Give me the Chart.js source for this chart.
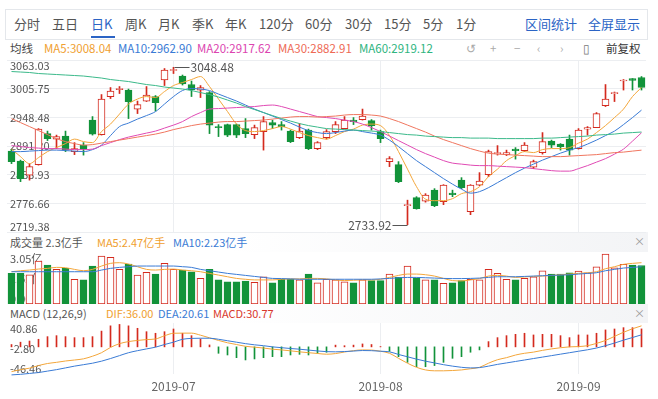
<!DOCTYPE html>
<html>
<head>
<meta charset="utf-8">
<script src="https://cdn.jsdelivr.net/npm/chart.js@4.4.1/dist/chart.umd.min.js"></script>
<style>
body{margin:0;width:658px;height:399px;background:#fff;font-family:"Noto Sans CJK SC",sans-serif;overflow:hidden;position:relative}
.t{position:absolute;white-space:nowrap;line-height:16px}
#tabs{position:absolute;left:5px;top:9px;width:643px;height:31px;border:1px solid #e4e7eb;box-sizing:border-box}
.tab{font-size:13px;color:#555;top:16px}
.lg{font-size:11.5px;top:40px}
.hd{font-size:11px}
.band{position:absolute;left:5px;width:643px;background:linear-gradient(to right,#fff 0%,#fff 35%,#f3f4f6 100%)}
canvas{position:absolute;left:0}
</style>
</head>
<body>
<div id="tabs"></div>
<span class="t tab" style="left:14px">分时</span>
<span class="t tab" style="left:52px">五日</span>
<span class="t tab" style="left:91px;color:#2b64c5">日K</span>
<div style="position:absolute;left:91px;top:36px;width:24px;height:2px;background:#2b64c5"></div>
<span class="t tab" style="left:125px">周K</span>
<span class="t tab" style="left:158px">月K</span>
<span class="t tab" style="left:192px">季K</span>
<span class="t tab" style="left:225px">年K</span>
<span class="t tab" style="left:259px">120分</span>
<span class="t tab" style="left:305px">60分</span>
<span class="t tab" style="left:345px">30分</span>
<span class="t tab" style="left:384px">15分</span>
<span class="t tab" style="left:423px">5分</span>
<span class="t tab" style="left:456px">1分</span>
<span class="t tab" style="left:525px;color:#2b64c5">区间统计</span>
<span class="t tab" style="left:588px;color:#2b64c5">全屏显示</span>

<span class="t lg" style="left:10px;color:#444">均线</span>
<span class="t lg" style="left:44px;color:#f0a030">MA5:3008.04</span>
<span class="t lg" style="left:118px;color:#3a7bd5">MA10:2962.90</span>
<span class="t lg" style="left:197px;color:#dc45b0">MA20:2917.62</span>
<span class="t lg" style="left:278px;color:#ee6a55">MA30:2882.91</span>
<span class="t lg" style="left:359px;color:#2fb57f">MA60:2919.12</span>
<span class="t lg" style="left:466px;color:#aaa">&#8634;</span>
<span class="t lg" style="left:490px;color:#aaa">+</span>
<span class="t lg" style="left:514px;color:#aaa">&minus;</span>
<span class="t lg" style="left:537px;color:#aaa">&lsaquo;</span>
<span class="t lg" style="left:560px;color:#aaa">&rsaquo;</span>
<span class="t lg" style="left:583px;color:#777">&#9647;</span>
<span class="t lg" style="left:606px;color:#333">前复权</span>

<div class="band" style="top:232px;height:20px"></div>
<span class="t hd" style="left:10px;top:234px;color:#555">成交量 2.3亿手</span>
<span class="t hd" style="left:97px;top:234px;color:#f0a030">MA5:2.47亿手</span>
<span class="t hd" style="left:173px;top:234px;color:#3a7bd5">MA10:2.23亿手</span>
<span class="t hd" style="left:634px;top:233px;color:#999">&times;</span>

<div class="band" style="top:304px;height:19px"></div>
<span class="t hd" style="left:10px;top:305px;color:#555">MACD (12,26,9)</span>
<span class="t hd" style="left:106px;top:305px;color:#f0a030">DIF:36.00</span>
<span class="t hd" style="left:158px;top:305px;color:#3a7bd5">DEA:20.61</span>
<span class="t hd" style="left:213px;top:305px;color:#d9382c">MACD:30.77</span>
<span class="t hd" style="left:634px;top:305px;color:#999">&times;</span>

<canvas id="kline" width="658" height="182" style="top:55px"></canvas>
<canvas id="vol" width="658" height="58" style="top:248px"></canvas>
<canvas id="macd" width="658" height="81" style="top:318px"></canvas>

<script>
// trading days shown
const dates = [
  '2019-06-04','2019-06-05','2019-06-06','2019-06-10','2019-06-11','2019-06-12','2019-06-13','2019-06-14',
  '2019-06-17','2019-06-18','2019-06-19','2019-06-20','2019-06-21','2019-06-24','2019-06-25','2019-06-26',
  '2019-06-27','2019-06-28',
  '2019-07-01','2019-07-02','2019-07-03','2019-07-04','2019-07-05','2019-07-08','2019-07-09','2019-07-10',
  '2019-07-11','2019-07-12','2019-07-15','2019-07-16','2019-07-17','2019-07-18','2019-07-19','2019-07-22',
  '2019-07-23','2019-07-24','2019-07-25','2019-07-26','2019-07-29','2019-07-30','2019-07-31',
  '2019-08-01','2019-08-02','2019-08-05','2019-08-06','2019-08-07','2019-08-08','2019-08-09','2019-08-12',
  '2019-08-13','2019-08-14','2019-08-15','2019-08-16','2019-08-19','2019-08-20','2019-08-21','2019-08-22',
  '2019-08-23','2019-08-26','2019-08-27','2019-08-28','2019-08-29','2019-08-30',
  '2019-09-02','2019-09-03','2019-09-04','2019-09-05','2019-09-06','2019-09-09','2019-09-10','2019-09-11'
];

// K线
const opens  = [2881,2861,2833,2854,2916,2905,2911,2880,2893,2943,2914,2990,3004,3003,2965,2981,2990,3023,3042,3031,
                3014,3003,2998,2930,2934,2934,2926,2914,2920,2938,2934,2921,2908,2923,2886,2908,2920,2926,2943,2944,
                2942,2920,2860,2854,2772,2788,2781,2803,2780,2797,2823,2760,2813,2834,2876,2874,2885,2882,2849,2878,
                2901,2895,2905,2886,2925,2928,2972,2996,3021,3026,3028];
const closes = [2860,2826,2850,2925,2906,2910,2883,2886,2885,2915,2985,3001,3006,2980,2974,2993,2978,3043,3044,3015,
                3004,3008,2933,2928,2913,2913,2916,2928,2940,2933,2930,2900,2921,2886,2898,2920,2934,2943,2940,2951,
                2932,2906,2866,2820,2774,2766,2793,2772,2813,2794,2808,2813,2821,2880,2878,2878,2882,2893,2860,2900,
                2893,2890,2883,2923,2928,2956,2985,2998,3023,3022,3008];
const highs  = [2884,2863,2856,2926,2921,2913,2921,2898,2898,2950,2994,3008,3010,3005,2981,3010,2992,3046,3048.48,3033,
                3021,3012,3000,2934,2935,2935,2946,2933,2950,2943,2940,2923,2936,2925,2900,2924,2940,2950,2948,2965,
                2944,2923,2870,2860,2783,2790,2796,2806,2814,2803,2828,2814,2838,2883,2892,2883,2888,2898,2863,2918,
                2903,2896,2913,2926,2930,2958,3014,2999,3024,3026,3030];
const lows   = [2856,2820,2823,2853,2902,2886,2880,2874,2873,2913,2913,2986,2996,2946,2956,2980,2961,3012,3036,3013,
                2990,2988,2916,2910,2910,2908,2908,2906,2883,2926,2923,2898,2906,2884,2884,2905,2916,2925,2934,2943,
                2923,2898,2850,2818,2733.92,2765,2779,2770,2774,2790,2806,2754,2812,2830,2873,2872,2865,2880,2846,2875,
                2888,2883,2873,2885,2913,2928,2970,2980,3003,3003,3003];

// 均线
const ma5  = [2885,2870,2856,2868,2880,2888,2896,2905,2900,2898,2920,2935,2955,2975,2985,2990,2988,3000,3012,3018,
              3024,3030,3010,2985,2960,2935,2922,2920,2922,2926,2930,2925,2918,2912,2908,2905,2912,2920,2925,2933,
              2935,2932,2912,2880,2845,2810,2785,2782,2782,2786,2796,2800,2810,2830,2845,2862,2872,2880,2878,2884,
              2886,2886,2888,2897,2905,2918,2932,2948,2965,2990,3008.04];
const ma10 = [2880,2880,2881,2882,2883,2883,2882,2881,2880,2884,2893,2912,2930,2937,2945,2952,2960,2975,2990,3002,
              3006,3005,3002,2995,2988,2981,2973,2965,2958,2951,2944,2937,2929,2922,2918,2916,2918,2921,2923,2920,
              2917,2913,2903,2890,2876,2862,2850,2838,2826,2815,2805,2797,2800,2808,2818,2828,2838,2847,2855,2863,
              2870,2877,2883,2888,2895,2903,2912,2921,2934,2948,2962.90];
const ma20 = [2892,2890,2888,2887,2886,2886,2885,2884,2884,2885,2892,2898,2904,2909,2913,2917,2921,2927,2933,2940,
              2950,2958,2965,2966,2967,2968,2969,2970,2972,2973,2970,2965,2960,2955,2950,2948,2946,2943,2940,2935,
              2928,2920,2911,2902,2893,2884,2876,2869,2862,2857,2855,2853,2852,2852,2851,2850,2849,2848,2846,2844,
              2842,2841,2841,2846,2852,2859,2866,2875,2885,2901,2917.62];
const ma30 = [2946,2938,2930,2922,2914,2906,2900,2896,2893,2894,2897,2900,2903,2906,2909,2912,2915,2919,2924,2928,
              2932,2935,2937,2939,2940,2940,2941,2942,2943,2945,2947,2949,2950,2950,2949,2950,2951,2953,2954,2954,
              2953,2951,2946,2940,2933,2926,2919,2911,2904,2898,2892,2886,2881,2877,2875,2874,2873,2872,2871,2870,
              2870,2870,2871,2872,2873,2874,2876,2878,2879,2881,2882.91];
const ma60 = [3040,3039,3038,3036,3035,3034,3033,3032,3031,3029,3027,3024,3022,3020,3017,3014,3012,3009,3007,3005,
              3002,2998,2994,2989,2983,2977,2970,2964,2958,2952,2946,2941,2936,2932,2929,2926,2925,2924,2923,2922,
              2921,2920,2918,2916,2914,2913,2911,2910,2909,2908,2908,2907,2907,2907,2906,2906,2906,2906,2906,2907,
              2907,2908,2909,2910,2911,2913,2914,2915,2917,2918,2919.12];

// 成交量 (亿手)
const volumes = [1.84,1.84,1.75,2.57,2.33,2.07,2.13,1.47,1.44,2.27,2.87,2.79,2.07,2.39,1.73,1.89,1.79,2.43,2.07,2.03,
                 1.93,1.54,2.07,1.44,1.33,1.33,1.37,1.29,1.63,1.27,1.47,1.47,1.44,1.79,1.27,1.47,1.44,1.33,1.27,1.44,
                 1.40,1.40,1.79,1.59,2.27,1.57,1.44,1.44,1.24,1.27,1.40,1.47,1.44,2.07,1.83,1.47,1.44,1.54,1.63,1.99,
                 1.79,1.79,1.87,1.97,1.87,2.23,2.99,2.17,2.37,2.33,2.30];
const volMa5  = [1.93,1.99,2.03,2.09,2.13,2.19,2.17,2.07,1.99,2.07,2.27,2.43,2.47,2.39,2.23,2.07,2.03,2.07,2.09,2.03,
                 1.99,1.93,1.83,1.73,1.63,1.53,1.48,1.44,1.44,1.44,1.48,1.50,1.50,1.53,1.53,1.50,1.44,1.40,1.42,1.44,
                 1.44,1.48,1.59,1.71,1.79,1.79,1.75,1.67,1.53,1.40,1.38,1.44,1.52,1.67,1.71,1.67,1.59,1.62,1.65,1.67,
                 1.71,1.75,1.79,1.83,1.87,1.93,2.11,2.23,2.37,2.43,2.47];
const volMa10 = [1.93,1.93,1.93,1.93,1.93,1.93,1.93,1.93,1.93,1.93,2.03,2.13,2.19,2.23,2.27,2.27,2.27,2.27,2.27,2.23,
                 2.19,2.07,1.99,1.91,1.83,1.77,1.71,1.65,1.59,1.53,1.52,1.50,1.48,1.48,1.48,1.48,1.48,1.48,1.48,1.48,
                 1.48,1.50,1.53,1.57,1.59,1.59,1.57,1.55,1.53,1.52,1.52,1.53,1.55,1.59,1.63,1.63,1.63,1.65,1.67,1.69,
                 1.71,1.73,1.75,1.79,1.83,1.87,1.99,2.07,2.15,2.19,2.23];

// MACD (12,26,9)
const dif  = [-42.4,-39,-36.5,-32,-28.5,-26.5,-24.2,-22.5,-20.5,-16,-10,-1,5.5,9,11,12.5,13.5,19,23.3,23.5,
              23.5,20,15.5,11,7,4,1,-0.5,-2,-4,-5.2,-6.8,-8.5,-10,-11.3,-12.6,-11.5,-8.8,-6.5,-5.2,
              -5.5,-7.5,-11,-19.6,-28,-35,-39.5,-41,-41,-40.5,-39.5,-37.5,-35,-28,-22,-18.5,-14,-11,-9,-6,
              -3.5,-1.5,0,0.5,2,6,11,18,25,31,36.00];
const dea  = [-48,-47,-45.5,-44,-41.5,-39,-36,-33,-30.5,-28,-24.5,-20,-15,-10,-6.5,-3.5,-0.5,4,8,13,
              14.5,14.8,14.8,13,10.5,8,5.5,3.5,2,0,-1.4,-2.8,-4,-5.5,-7,-8.2,-8.5,-8,-7.2,-6.3,
              -6.5,-7.5,-8.5,-13,-17,-21,-24.5,-27.5,-30.5,-33,-35,-36,-35.5,-33,-30,-27.5,-25,-22.5,-20,-17.5,
              -15,-12.5,-10,-7.5,-5,-2,2,6.5,11.5,16,20.61];
const macd = [4,8,10,13,17.5,19.2,17.5,15.8,15.8,17.5,27,36,38.4,36,31.8,26,23.3,26,30.6,23.3,
              19.2,13.5,3.3,-11,-13.9,-18.5,-22.4,-20.7,-18.5,-16.8,-16.8,-13.9,-12.8,-13.9,-11,-9.2,3,2,3,5,
              4,0.5,-7.6,-16.8,-26.5,-34,-34,-32,-26.5,-19.6,-16.8,-9.2,-5.2,9,15.8,19.2,21.5,23.3,20.4,21.5,
              21.5,19.2,15.8,20.4,20.4,23.3,29,30.6,32.9,32.9,30.77];

// 坐标刻度
const priceTicks = [3063.03,3005.75,2948.48,2891.20,2833.93,2776.66,2719.38];
const volTicks = [3.05,1.52,0];
const volTickLabels = ['3.05亿','1.52亿','0.00'];
const macdTicks = [40.86,-2.80,-46.46];

const RED = '#d42a1e', GREEN = '#12933a', GRID = '#eceef1';
const FONT = '"Noto Sans CJK SC", sans-serif';
Chart.defaults.font.family = FONT;

const up = closes.map((c, i) => c >= opens[i]);
function monthStart(i) {
    return i > 0 && dates[i].slice(0, 7) !== dates[i - 1].slice(0, 7);
}

// y 轴刻度写在图内左侧
const sideTicks = {
    id: 'sideTicks',
    beforeDatasetsDraw(chart, args, opts) {
        const y = chart.scales.y, a = chart.chartArea, ctx = chart.ctx;
        ctx.save();
        ctx.font = '11px ' + FONT;
        ctx.fillStyle = '#555';
        ctx.textAlign = 'left';
        ctx.textBaseline = 'middle';
        opts.values.forEach((v, k) => {
            let py = y.getPixelForValue(v);
            py = Math.min(Math.max(py, a.top + 6), a.bottom - 5);
            ctx.fillText(opts.labels[k], a.left + 3, py);
        });
        ctx.restore();
    }
};

// 最高/最低价标注
const extrema = {
    id: 'extrema',
    afterDatasetsDraw(chart) {
        const x = chart.scales.x, y = chart.scales.y, ctx = chart.ctx;
        const hi = highs.indexOf(Math.max(...highs));
        const lo = lows.indexOf(Math.min(...lows));
        ctx.save();
        ctx.strokeStyle = '#555';
        ctx.fillStyle = '#555';
        ctx.lineWidth = 1;
        ctx.font = '12px ' + FONT;
        ctx.textBaseline = 'middle';

        let px = x.getPixelForValue(hi), py = Math.round(y.getPixelForValue(highs[hi])) + 0.5;
        ctx.beginPath();
        ctx.moveTo(px + 1, py);
        ctx.lineTo(px + 16, py);
        ctx.stroke();
        ctx.textAlign = 'left';
        ctx.fillText(highs[hi].toFixed(2), px + 17, py);

        px = x.getPixelForValue(lo);
        py = Math.round(y.getPixelForValue(lows[lo])) + 0.5;
        ctx.beginPath();
        ctx.moveTo(px, py);
        ctx.lineTo(px - 15, py);
        ctx.stroke();
        ctx.textAlign = 'right';
        ctx.fillText(lows[lo].toFixed(2), px - 16, py);
        ctx.restore();
    }
};

function line(data, color) {
    return {
        type: 'line', data: data, borderColor: color, borderWidth: 1,
        pointRadius: 0, cubicInterpolationMode: 'monotone', order: 1, clip: 4
    };
}

function xScale(showGrid) {
    return {
        offset: true,
        grid: {
            display: showGrid, offset: false, drawTicks: false,
            color: c => monthStart(c.index) ? GRID : 'rgba(0,0,0,0)'
        },
        border: { display: false },
        ticks: { display: false },
        afterFit: s => { s.height = 0; }
    };
}

function yScale(min, max, ticks, showGrid) {
    return {
        min: min, max: max,
        grid: { display: showGrid, drawTicks: false, color: GRID },
        border: { display: false },
        ticks: { display: false },
        afterBuildTicks: s => { s.ticks = ticks.map(v => ({ value: v })); },
        afterFit: s => { s.width = 0; }
    };
}

const common = {
    responsive: false,
    animation: false,
    devicePixelRatio: 1,
    events: []
};

// K线图
new Chart(document.getElementById('kline'), {
    type: 'bar',
    data: {
        labels: dates,
        datasets: [
            {
                data: lows.map((l, i) => [l, highs[i]]),
                backgroundColor: up.map(u => u ? RED : GREEN),
                barThickness: 1, grouped: false, order: 3
            },
            {
                data: opens.map((o, i) => [o, closes[i]]),
                backgroundColor: up.map(u => u ? '#fff' : GREEN),
                borderColor: up.map(u => u ? RED : GREEN),
                borderWidth: 1, borderSkipped: false,
                barThickness: 7, minBarLength: 1, grouped: false, order: 2
            },
            line(ma60, '#3bb98a'),
            line(ma30, '#f0765f'),
            line(ma20, '#e04ab4'),
            line(ma10, '#3a7bd5'),
            line(ma5, '#f3a63a')
        ]
    },
    options: Object.assign({}, common, {
        layout: { padding: { left: 7, right: 12, top: 5, bottom: 5 } },
        plugins: {
            legend: { display: false }, tooltip: { enabled: false },
            sideTicks: { values: priceTicks, labels: priceTicks.map(v => v.toFixed(2)) }
        },
        scales: {
            x: xScale(true),
            y: yScale(priceTicks[priceTicks.length - 1], priceTicks[0], priceTicks, true)
        }
    }),
    plugins: [sideTicks, extrema]
});

// 成交量
new Chart(document.getElementById('vol'), {
    type: 'bar',
    data: {
        labels: dates,
        datasets: [
            {
                data: volumes,
                backgroundColor: up.map(u => u ? '#fff' : GREEN),
                borderColor: up.map(u => u ? RED : GREEN),
                borderWidth: 1, borderSkipped: false, barThickness: 7, order: 2
            },
            line(volMa10, '#3a7bd5'),
            line(volMa5, '#f3a63a')
        ]
    },
    options: Object.assign({}, common, {
        layout: { padding: { left: 7, right: 12, top: 5, bottom: 2 } },
        plugins: {
            legend: { display: false }, tooltip: { enabled: false },
            sideTicks: { values: volTicks, labels: volTickLabels }
        },
        scales: {
            x: xScale(false),
            y: yScale(0, volTicks[0], volTicks, false)
        }
    }),
    plugins: [sideTicks]
});

// MACD
const macdX = xScale(true);
macdX.ticks = {
    display: true, autoSkip: false, maxRotation: 0, padding: 5,
    color: '#666', font: { size: 12 },
    callback: (v, i) => monthStart(i) ? dates[i].slice(0, 7) : ''
};
macdX.afterFit = s => { s.height = 25; };

new Chart(document.getElementById('macd'), {
    type: 'bar',
    data: {
        labels: dates,
        datasets: [
            {
                data: macd,
                backgroundColor: macd.map(v => v >= 0 ? RED : GREEN),
                barThickness: 1, order: 2
            },
            line(dea, '#3a7bd5'),
            line(dif, '#f3a63a')
        ]
    },
    options: Object.assign({}, common, {
        layout: { padding: { left: 7, right: 12, top: 5, bottom: 0 } },
        plugins: {
            legend: { display: false }, tooltip: { enabled: false },
            sideTicks: { values: macdTicks, labels: macdTicks.map(v => v.toFixed(2)) }
        },
        scales: {
            x: macdX,
            y: yScale(macdTicks[2], macdTicks[0], macdTicks, false)
        }
    }),
    plugins: [sideTicks]
});
</script>
</body>
</html>
